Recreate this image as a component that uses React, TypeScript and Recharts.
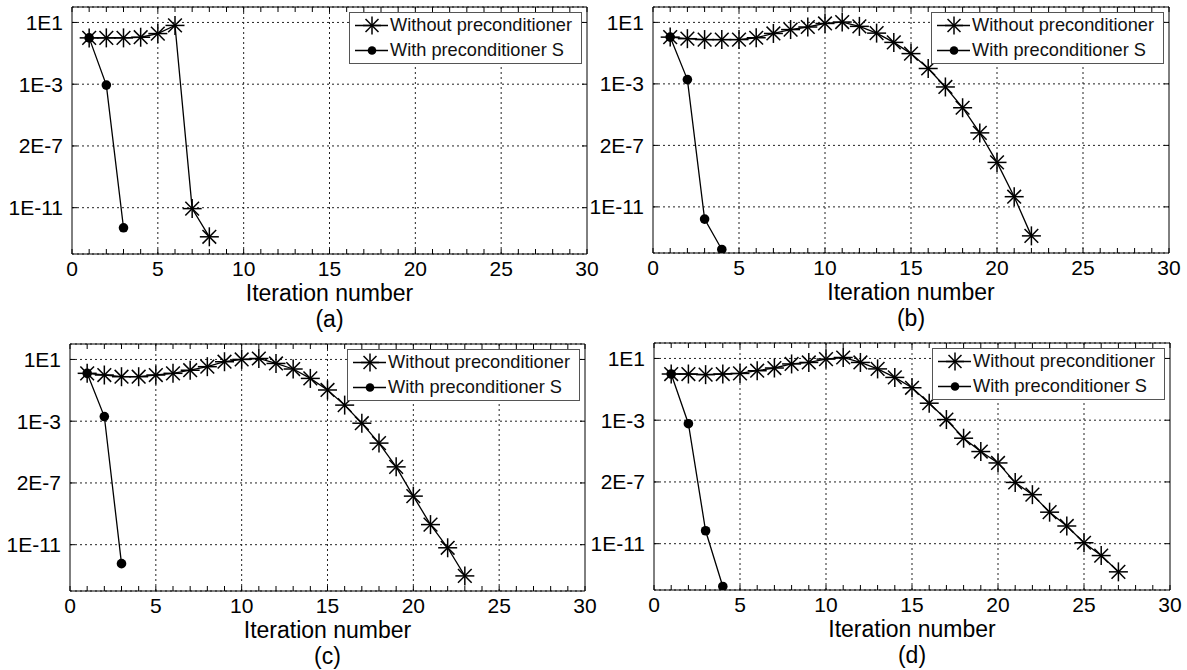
import React from 'react';
import { LineChart, Line, XAxis, YAxis, CartesianGrid, Legend, Label } from 'recharts';

// residual per iteration (iteration = index + 1)
const WITHOUT_A = [1.0, 1.0, 1.0, 1.1, 1.9, 6.4, 8.7e-12, 1.3e-13];
const WITH_A = [1.0, 8.7e-4, 5.0e-13];

const WITHOUT_B = [1.1, 0.87, 0.76, 0.76, 0.76, 1.0, 1.9, 3.4, 5.0, 8.5, 10.5, 5.5, 2.0, 0.5, 9.3e-2, 1.0e-2, 6.3e-4, 2.8e-5, 6.5e-7, 7.8e-9, 4.6e-11, 1.3e-13];
const WITH_B = [1.1, 1.9e-3, 1.6e-12, 1.7e-14];

const WITHOUT_C = [1.26, 0.98, 0.76, 0.76, 0.98, 1.26, 2.0, 3.4, 7.1, 10, 11.5, 5.5, 2.4, 0.59, 0.105, 1.1e-2, 7.4e-4, 3.8e-5, 1.1e-6, 1.4e-8, 2.0e-10, 6.3e-12, 9.5e-14];
const WITH_C = [1.26, 2.0e-3, 5.9e-13];

const WITHOUT_D = [0.98, 0.98, 0.89, 0.98, 1.07, 1.6, 2.4, 4.4, 5.5, 9.1, 11.5, 5.5, 2.1, 0.59, 0.126, 1.26e-2, 1.1e-3, 6.8e-5, 9.3e-6, 1.7e-6, 9.3e-8, 1.5e-8, 1.1e-9, 1.4e-10, 1.15e-11, 1.7e-12, 1.5e-13];
const WITH_D = [0.98, 5.9e-4, 6.9e-11, 1.7e-14];

const Y_TICKS = [1e1, 1e-3, 1e-7, 1e-11];
const Y_TICK_LABELS = ['1E1', '1E-3', '2E-7', '1E-11'];
const X_GRID = [5, 10, 15, 20, 25];
const X_TICKS = Array.from({ length: 31 }, (_, i) => i);

const SERIES_NAMES = ['Without preconditioner', 'With preconditioner S'];
const X_LABEL = 'Iteration number';

const FONT = '"Liberation Sans", Arial, Helvetica, sans-serif';

const toPoints = (vals: number[]) => vals.map((v, i) => ({ iter: i + 1, value: v }));

const fmtY = (v: number) => {
  const i = Y_TICKS.findIndex(t => Math.abs(Math.log10(t) - Math.log10(v)) < 1e-6);
  return i >= 0 ? Y_TICK_LABELS[i] : '';
};

const Star = ({ cx, cy, r = 9.5 }: { cx: number; cy: number; r?: number }) => {
  const d = r * 0.72;
  return (
    <g stroke="#000" strokeWidth={1.5}>
      <line x1={cx} y1={cy - r} x2={cx} y2={cy + r} />
      <line x1={cx - r} y1={cy} x2={cx + r} y2={cy} />
      <line x1={cx - d} y1={cy - d} x2={cx + d} y2={cy + d} />
      <line x1={cx - d} y1={cy + d} x2={cx + d} y2={cy - d} />
    </g>
  );
};

const starDot = (props: any) => {
  const { cx, cy, index } = props;
  if (cx == null || cy == null) return <g key={`s-${index}`} />;
  return <g key={`s-${index}`}><Star cx={cx} cy={cy} /></g>;
};

const circleDot = (props: any) => {
  const { cx, cy, index } = props;
  if (cx == null || cy == null) return <g key={`c-${index}`} />;
  return <circle key={`c-${index}`} cx={cx} cy={cy} r={4.8} fill="#000" stroke="none" />;
};

const LegendRow = ({ kind, text }: { kind: 'star' | 'dot'; text: string }) => (
  <div style={{ display: 'flex', alignItems: 'center', height: 25 }}>
    <svg width={40} height={25} style={{ display: 'block' }}>
      <line x1={5} x2={38} y1={12.5} y2={12.5} stroke="#000" strokeWidth={1.3} />
      {kind === 'star' ? <Star cx={22} cy={12.5} r={9} /> : <circle cx={22} cy={12.5} r={4.3} fill="#000" />}
    </svg>
    <span style={{ fontSize: 18.2, whiteSpace: 'nowrap', color: '#111', fontFamily: FONT }}>{text}</span>
  </div>
);

const LegendBox = () => (
  <div style={{ width: 231, border: '1px solid #555', background: '#fff' }}>
    <LegendRow kind="star" text={SERIES_NAMES[0]} />
    <LegendRow kind="dot" text={SERIES_NAMES[1]} />
  </div>
);

interface PanelProps {
  caption: string;
  without: number[];
  withS: number[];
  left: number;
  top: number;
  width: number;
  plotHeight: number;
  bottomPad: number;
  yAxisWidth: number;
  marginRight: number;
}

const X_AXIS_HEIGHT = 78;

const Panel: React.FC<PanelProps> = ({ caption, without, withS, left, top, width, plotHeight, bottomPad, yAxisWidth, marginRight }) => {
  const plotRight = width - marginRight - 1;
  const height = 7 + plotHeight + X_AXIS_HEIGHT + bottomPad;
  return (
    <div style={{ position: 'absolute', left, top }}>
      <LineChart width={width} height={height} margin={{ top: 6, right: marginRight, bottom: bottomPad, left: 0 }}>
        <CartesianGrid
          xAxisId="bottom"
          yAxisId="left"
          verticalValues={X_GRID}
          stroke="#222"
          strokeDasharray="2 3"
        />
        <XAxis
          xAxisId="bottom"
          type="number"
          dataKey="iter"
          domain={[0, 30]}
          allowDataOverflow
          ticks={X_TICKS}
          interval={0}
          tickFormatter={(v: number) => (v % 5 === 0 ? String(v) : '')}
          height={X_AXIS_HEIGHT}
          tickSize={-5}
          tickMargin={12}
          tick={{ fontSize: 21, fill: '#000' }}
          stroke="#000"
        >
          <Label value={X_LABEL} position="insideBottom" offset={31} fontSize={23} fill="#000" />
          <Label value={caption} position="insideBottom" offset={5} fontSize={23} fill="#000" />
        </XAxis>
        <XAxis
          xAxisId="top"
          orientation="top"
          type="number"
          dataKey="iter"
          domain={[0, 30]}
          allowDataOverflow
          ticks={X_TICKS}
          interval={0}
          tickFormatter={() => ''}
          height={1}
          tickSize={-5}
          stroke="#000"
        />
        <YAxis
          yAxisId="left"
          type="number"
          scale="log"
          domain={[1e-14, 1e2]}
          allowDataOverflow
          ticks={Y_TICKS}
          interval={0}
          tickFormatter={fmtY}
          width={yAxisWidth}
          tickSize={-5}
          tickMargin={14}
          tick={{ fontSize: 21, fill: '#000' }}
          stroke="#000"
        />
        <YAxis
          yAxisId="right"
          orientation="right"
          type="number"
          scale="log"
          domain={[1e-14, 1e2]}
          allowDataOverflow
          ticks={Y_TICKS}
          interval={0}
          tickFormatter={() => ''}
          width={1}
          tickSize={-5}
          stroke="#000"
        />
        <Line
          xAxisId="bottom"
          yAxisId="left"
          data={toPoints(without)}
          dataKey="value"
          name={SERIES_NAMES[0]}
          stroke="#000"
          strokeWidth={1.3}
          dot={starDot}
          activeDot={false}
          isAnimationActive={false}
        />
        <Line
          xAxisId="bottom"
          yAxisId="left"
          data={toPoints(withS)}
          dataKey="value"
          name={SERIES_NAMES[1]}
          stroke="#000"
          strokeWidth={1.3}
          dot={circleDot}
          activeDot={false}
          isAnimationActive={false}
        />
        <Legend
          layout="vertical"
          align="center"
          verticalAlign="middle"
          content={() => <LegendBox />}
          wrapperStyle={{ left: plotRight - 5 - 233, top: 12, width: 233 }}
        />
      </LineChart>
    </div>
  );
};

export default function App() {
  return (
    <div
      style={{
        position: 'absolute',
        left: 0,
        top: 0,
        width: 1187,
        height: 670,
        background: '#fff',
        fontFamily: FONT,
        overflow: 'hidden',
      }}
    >
      <Panel caption="(a)" without={WITHOUT_A} withS={WITH_A} left={0} top={0} width={604} plotHeight={247} bottomPad={4} yAxisWidth={72} marginRight={16} />
      <Panel caption="(b)" without={WITHOUT_B} withS={WITH_B} left={580} top={0} width={607} plotHeight={246} bottomPad={4} yAxisWidth={73} marginRight={17} />
      <Panel caption="(c)" without={WITHOUT_C} withS={WITH_C} left={0} top={337} width={604} plotHeight={247} bottomPad={1} yAxisWidth={70} marginRight={18} />
      <Panel caption="(d)" without={WITHOUT_D} withS={WITH_D} left={580} top={336} width={607} plotHeight={247} bottomPad={1} yAxisWidth={74} marginRight={16} />
    </div>
  );
}
